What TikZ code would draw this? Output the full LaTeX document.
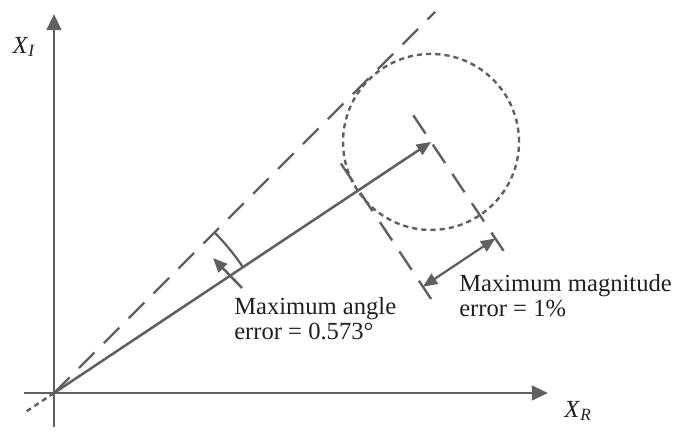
\documentclass[tikz,border=0pt]{standalone}
\usepackage{fontspec}
\setmainfont{Liberation Serif}
\usepackage{xcolor}
\usetikzlibrary{arrows.meta,calc}
\definecolor{grisosc}{RGB}{96,96,96}
\definecolor{negro}{RGB}{35,31,32}
\tikzset{
  eje/.style={draw=grisosc, line width=2.1pt, -{Triangle[length=0.4cm,width=0.36cm]}},
  flecha/.style={draw=grisosc, line width=1.8pt, -{Triangle[length=0.36cm,width=0.3cm]}},
  dobleflecha/.style={draw=grisosc, line width=1.6pt, {Triangle[length=0.36cm,width=0.3cm]}-{Triangle[length=0.36cm,width=0.3cm]}},
  guia/.style={draw=grisosc, line width=1.7pt, dash pattern=on 0.55cm off 0.33cm},
  punteado/.style={draw=grisosc, line width=1.7pt, dash pattern=on 0.13cm off 0.1cm},
  etiqueta/.style={text=negro, font=\fontsize{17.5}{18}\selectfont, align=left, inner sep=0pt, anchor=north west}
}

\begin{document}
\begin{tikzpicture}[x=0.025cm, y=0.025cm]
  \useasboundingbox (-54,-43) rectangle (626,393);
  \coordinate (O) at (0,0);
  \coordinate (T) at (33.66:453);
  \coordinate (P) at (33.66:366);
  \coordinate (ejeY) at (0,379);
  \coordinate (ejeX) at (494,0);

  \draw[eje] (0,-34) -- (ejeY);
  \draw[eje] (-30,0) -- (ejeX);
  \node[etiqueta, anchor=center] (xi) at (-30,346) {\textit{X}\textsubscript{\textit{I}}};
  \node[etiqueta, anchor=center] (xr) at (524,-18) {\textit{X}\textsubscript{\textit{R}}};

  % limite de angulo y error
  \draw[guia] (O) -- (45:539);
  \draw[punteado] (O) -- (213.66:36);
  \draw[punteado] (T) circle[radius=88];
  \draw[guia] ($(T)+(123.66:32)$) -- ($(T)+(-56.34:138)$);
  \draw[guia] ($(P)+(123.66:32)$) -- ($(P)+(-56.34:136)$);

  \draw[flecha] (O) -- (T);
  \draw[grisosc, line width=1.6pt] (45:227) arc[start angle=45, end angle=33.66, radius=227];

  \coordinate (a1) at (188,105);
  \coordinate (a2) at (159,135);
  \draw[flecha] (a1) -- (a2);
  \coordinate (m1) at ($(P)+(-56.34:116)$);
  \coordinate (m2) at ($(T)+(-56.34:116)$);
  \draw[dobleflecha] (m1) -- (m2);

  \node[etiqueta] (angulo) at (180,96) {Maximum angle\\error = 0.573°};
  \node[etiqueta] (magnitud) at (405,119) {Maximum magnitude\\error = 1\%};
\end{tikzpicture}
\end{document}
